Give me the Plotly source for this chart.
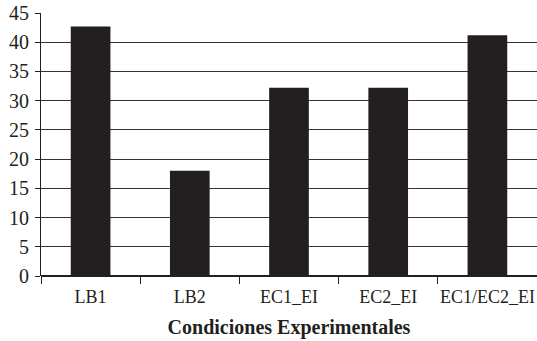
import plotly.graph_objects as go

categories = ["LB1", "LB2", "EC1_EI", "EC2_EI", "EC1/EC2_EI"]
values = [42.7, 18.0, 32.2, 32.2, 41.2]
y_ticks = [0, 5, 10, 15, 20, 25, 30, 35, 40, 45]

fig = go.Figure(go.Bar(x=categories, y=values, marker=dict(color="#231f20", line=dict(width=0))))

font = "'Liberation Serif', 'Times New Roman', serif"
fig.update_layout(
    width=537, height=341,
    margin=dict(l=41, r=0, t=13, b=65, autoexpand=False),
    plot_bgcolor="white", paper_bgcolor="white",
    bargap=0.6,
    showlegend=False,
    font=dict(family=font, color="#231f20"),
)
fig.update_xaxes(
    type="category",
    automargin=False,
    tickangle=0,
    tickson="boundaries",
    ticks="outside", ticklen=7, tickcolor="#231f20", tickwidth=1,
    ticklabelstandoff=8,
    showgrid=False,
    showline=False,
    tickfont=dict(family=font, size=18, color="#231f20"),
    title=dict(text="<b>Condiciones Experimentales</b>", font=dict(family=font, size=20, color="#231f20"), standoff=13),
)
fig.update_yaxes(
    range=[0, 45],
    automargin=False,
    tickvals=y_ticks,
    ticks="outside", ticklen=5, tickcolor="#231f20", tickwidth=1,
    ticklabelstandoff=2,
    showgrid=True, gridcolor="#333333", gridwidth=1,
    showline=True, linecolor="#231f20", linewidth=1,
    zeroline=True, zerolinecolor="#231f20", zerolinewidth=2,
    tickfont=dict(family=font, size=20, color="#231f20"),
)
fig.write_html("out.html", config={"displayModeBar": False},
               post_script="document.body.style.margin='0';document.body.style.padding='0';")
